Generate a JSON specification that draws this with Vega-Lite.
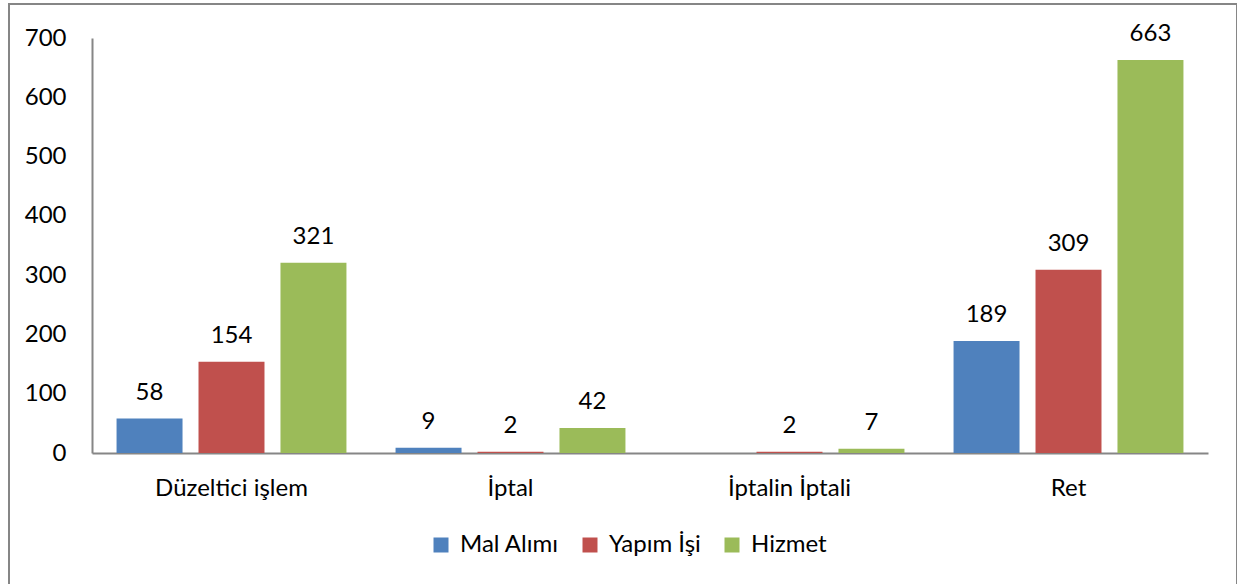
{
  "$schema": "https://vega.github.io/schema/vega-lite/v6.json",
  "autosize": {"type": "none"},
  "padding": {"left": 9, "top": 4, "right": 0, "bottom": 0},
  "width": 1228,
  "height": 600,
  "background": "white",
  "config": {
    "view": {"stroke": "#868686", "strokeWidth": 2},
    "font": "Lato",
    "text": {"font": "Lato"}
  },
  "data": {
    "values": [
      {"kategori": "Düzeltici işlem", "tur": "Mal Alımı", "deger": 58},
      {"kategori": "Düzeltici işlem", "tur": "Yapım İşi", "deger": 154},
      {"kategori": "Düzeltici işlem", "tur": "Hizmet", "deger": 321},
      {"kategori": "İptal", "tur": "Mal Alımı", "deger": 9},
      {"kategori": "İptal", "tur": "Yapım İşi", "deger": 2},
      {"kategori": "İptal", "tur": "Hizmet", "deger": 42},
      {"kategori": "İptalin İptali", "tur": "Yapım İşi", "deger": 2},
      {"kategori": "İptalin İptali", "tur": "Hizmet", "deger": 7},
      {"kategori": "Ret", "tur": "Mal Alımı", "deger": 189},
      {"kategori": "Ret", "tur": "Yapım İşi", "deger": 309},
      {"kategori": "Ret", "tur": "Hizmet", "deger": 663}
    ]
  },
  "encoding": {
    "x": {
      "field": "kategori",
      "type": "nominal",
      "sort": ["Düzeltici işlem", "İptal", "İptalin İptali", "Ret"],
      "scale": {"range": [83, 1199], "paddingInner": 0.176, "paddingOuter": 0.088},
      "axis": {
        "title": null,
        "labelAngle": 0,
        "ticks": false,
        "offset": -151,
        "domainColor": "#868686",
        "domainWidth": 2,
        "labelFont": "Lato",
        "labelFontSize": 24,
        "labelColor": "black",
        "labelPadding": 23
      }
    },
    "xOffset": {
      "field": "tur",
      "type": "nominal",
      "sort": ["Mal Alımı", "Yapım İşi", "Hizmet"],
      "scale": {"paddingInner": 0.195, "paddingOuter": 0}
    },
    "y": {
      "field": "deger",
      "type": "quantitative",
      "scale": {"domain": [0, 700], "range": [449, 34], "nice": false},
      "axis": {
        "title": null,
        "values": [0, 100, 200, 300, 400, 500, 600, 700],
        "grid": false,
        "ticks": false,
        "offset": -83,
        "domainColor": "#868686",
        "domainWidth": 2,
        "labelFont": "Lato",
        "labelFontSize": 24,
        "labelColor": "black",
        "labelPadding": 26
      }
    }
  },
  "layer": [
    {
      "mark": {"type": "bar"},
      "encoding": {
        "color": {
          "field": "tur",
          "type": "nominal",
          "scale": {
            "domain": ["Mal Alımı", "Yapım İşi", "Hizmet"],
            "range": ["#4F81BD", "#C0504D", "#9BBB59"]
          },
          "legend": {
            "title": null,
            "orient": "none",
            "direction": "horizontal",
            "legendX": 420,
            "legendY": 529,
            "symbolType": "square",
            "symbolSize": 225,
            "symbolStrokeWidth": 0,
            "labelFont": "Lato",
            "labelFontSize": 24,
            "labelColor": "black",
            "labelOffset": 7,
            "columnPadding": 19
          }
        }
      }
    },
    {
      "mark": {"type": "text", "baseline": "bottom", "dy": -14, "fontSize": 24, "font": "Lato", "color": "black"},
      "encoding": {
        "text": {"field": "deger", "type": "quantitative"}
      }
    }
  ]
}
